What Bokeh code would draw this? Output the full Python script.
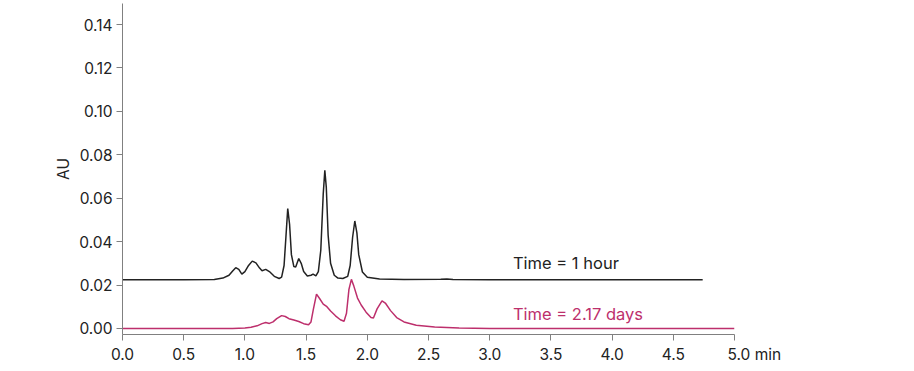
from bokeh.plotting import figure
from bokeh.models import Range1d, Label, FixedTicker, CustomJSTickFormatter
from bokeh.embed import file_html
from bokeh.resources import INLINE

# Time = 1 hour trace (min, AU)
t_1h = [0.0, 0.5, 0.75, 0.82, 0.87, 0.90, 0.925, 0.95, 0.975, 1.00, 1.03, 1.06, 1.09, 1.12,
        1.14, 1.17, 1.20, 1.24, 1.28, 1.30, 1.32, 1.335, 1.35, 1.365, 1.38, 1.40, 1.415, 1.44,
        1.46, 1.48, 1.51, 1.54, 1.557, 1.58, 1.60, 1.62, 1.64, 1.653, 1.665, 1.68, 1.70, 1.73,
        1.76, 1.80, 1.84, 1.86, 1.88, 1.898, 1.915, 1.93, 1.96, 2.00, 2.10, 2.30, 2.60, 2.65,
        2.70, 3.00, 4.00, 4.74]
au_1h = [0.0224, 0.0224, 0.0225, 0.0232, 0.0245, 0.0265, 0.0280, 0.0272, 0.0250, 0.0262,
         0.0290, 0.0310, 0.0302, 0.0278, 0.0266, 0.0272, 0.0262, 0.0240, 0.0230, 0.0236,
         0.0290, 0.0420, 0.0552, 0.0480, 0.0340, 0.0285, 0.0283, 0.0322, 0.0300, 0.0262,
         0.0242, 0.0245, 0.0250, 0.0242, 0.0262, 0.0360, 0.0620, 0.0728, 0.0650, 0.0430,
         0.0300, 0.0245, 0.0232, 0.0230, 0.0240, 0.0290, 0.0420, 0.0495, 0.0440, 0.0340,
         0.0260, 0.0236, 0.0228, 0.0225, 0.0226, 0.0228, 0.0225, 0.0224, 0.0224, 0.0224]

# Time = 2.17 days trace (min, AU)
t_2d = [0.0, 0.9, 1.0, 1.05, 1.10, 1.14, 1.17, 1.20, 1.23, 1.26, 1.30, 1.33, 1.36, 1.40, 1.44,
        1.48, 1.52, 1.54, 1.56, 1.585, 1.61, 1.64, 1.67, 1.70, 1.74, 1.78, 1.81, 1.83, 1.85,
        1.87, 1.89, 1.92, 1.95, 1.99, 2.03, 2.05, 2.08, 2.12, 2.15, 2.19, 2.24, 2.30, 2.40,
        2.55, 2.75, 3.00, 5.00]
au_2d = [0.0, 0.0, 0.0002, 0.0005, 0.0012, 0.0022, 0.0027, 0.0023, 0.0030, 0.0045, 0.0059,
         0.0055, 0.0045, 0.0039, 0.0032, 0.0022, 0.0017, 0.0030, 0.0090, 0.0158, 0.0138,
         0.0112, 0.0100, 0.0080, 0.0058, 0.0040, 0.0033, 0.0070, 0.0180, 0.0226, 0.0195,
         0.0140, 0.0108, 0.0075, 0.0050, 0.0048, 0.0090, 0.0127, 0.0115, 0.0082, 0.0050,
         0.0030, 0.0015, 0.0006, 0.0002, 0.0, 0.0]

x_ticks = [0.0, 0.5, 1.0, 1.5, 2.0, 2.5, 3.0, 3.5, 4.0, 4.5, 5.0]
y_ticks = [0.00, 0.02, 0.04, 0.06, 0.08, 0.10, 0.12, 0.14]
x_unit = "min"
label_1h = "Time = 1 hour"
label_2d = "Time = 2.17 days"

FONT = "Inter"
BLACK = "#222222"
PINK = "#bd2f6c"
AXIS = "#808080"

p = figure(width=900, height=368, output_backend="svg", toolbar_location=None,
           x_range=Range1d(0, 5.0), y_range=Range1d(-0.0028, 0.1497),
           min_border_left=122, min_border_right=166, min_border_top=3, min_border_bottom=34)
p.outline_line_color = None
p.grid.grid_line_color = None

p.line(t_1h, au_1h, line_color=BLACK, line_width=1.5)
p.line(t_2d, au_2d, line_color=PINK, line_width=1.5)

p.xaxis.ticker = FixedTicker(ticks=x_ticks)
p.yaxis.ticker = FixedTicker(ticks=y_ticks)
# last x tick carries the unit; non-breaking padding keeps the number centred on its tick
p.xaxis.formatter = CustomJSTickFormatter(
    args=dict(unit=x_unit),
    code="""
    const s = tick.toFixed(1);
    if (Math.abs(tick - 5.0) < 1e-9) {
        return '\\u2003\\u2003\\u00a0\\u00a0' + s + ' ' + unit;
    }
    return s;
    """)
p.yaxis.formatter = CustomJSTickFormatter(code="return tick.toFixed(2);")

for ax in (p.xaxis[0], p.yaxis[0]):
    ax.axis_line_color = AXIS
    ax.axis_line_width = 1
    ax.major_tick_line_color = AXIS
    ax.major_tick_in = 0
    ax.major_tick_out = 6
    ax.minor_tick_line_color = None
    ax.major_label_text_font = FONT
    ax.major_label_text_font_size = "15.5px"
    ax.major_label_text_color = BLACK
    ax.major_label_standoff = 4

p.yaxis.axis_label = "AU"
p.yaxis.axis_label_text_font = FONT
p.yaxis.axis_label_text_font_size = "15.5px"
p.yaxis.axis_label_text_font_style = "normal"
p.yaxis.axis_label_text_color = BLACK
p.yaxis.axis_label_standoff = 3

p.add_layout(Label(x=3.19, y=0.030, text=label_1h, text_font=FONT, text_font_size="16.5px",
                   text_color=BLACK, text_baseline="middle"))
p.add_layout(Label(x=3.19, y=0.0068, text=label_2d, text_font=FONT, text_font_size="16.5px",
                   text_color=PINK, text_baseline="middle"))

open("out.html", "w").write(file_html(p, INLINE))
